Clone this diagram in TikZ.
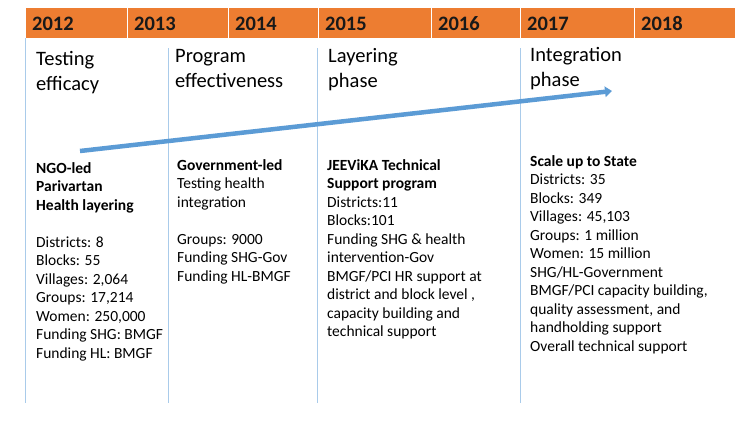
\documentclass[tikz,border=0pt]{standalone}
\usepackage{fontspec}
\setmainfont{Carlito}
\usetikzlibrary{arrows.meta}
\definecolor{barorange}{HTML}{ED7D31}
\definecolor{linelblue}{HTML}{A9CBEA}
\definecolor{arrowblue}{HTML}{5B9BD5}
\tikzset{
  yearcell/.style={fill=barorange, draw=white, line width=0.8pt},
  yeartext/.style={anchor=base west, inner sep=0pt, font=\fontsize{20.5}{24}\selectfont\bfseries, text=black!90},
  phasetext/.style={anchor=north west, inner sep=0pt, align=left, font=\fontsize{20.5}{25}\selectfont},
  bodytext/.style={anchor=north west, inner sep=0pt, align=left, font=\fontsize{15.5}{18.5}\selectfont},
  divider/.style={draw=linelblue, line width=0.8pt},
  timearrow/.style={draw=arrowblue, line width=4.5pt, -{Triangle[length=7pt,width=10.5pt]}}
}
\begin{document}
\begin{tikzpicture}[x=1pt,y=-1pt]
\useasboundingbox[fill=white] (0,0) rectangle (749,421);
% year bar
\foreach \a/\b/\yr/\n in {25/127/2012/ya,127/228/2013/yb,228/318/2014/yc,318/431/2015/yd,431/520/2016/ye,520/634/2017/yf,634/735/2018/yg}{
  \path[yearcell] (\a,7) rectangle (\b,38);
  \node[yeartext] (\n) at (\a+7,30) {\yr};
}
% dividers
\coordinate (d1t) at (25,38);  \coordinate (d1b) at (25,403);
\coordinate (d2t) at (168,48); \coordinate (d2b) at (168,403);
\coordinate (d3t) at (317,48); \coordinate (d3b) at (317,403);
\coordinate (d4t) at (520,48); \coordinate (d4b) at (520,403);
\draw[divider] (d1t) -- (d1b);
\draw[divider] (d2t) -- (d2b);
\draw[divider] (d3t) -- (d3b);
\draw[divider] (d4t) -- (d4b);
% phase headings
\node[phasetext] (p1) at (36,47.5) {\strut Testing\\efficacy};
\node[phasetext] (p2) at (175,44.5) {\strut Program\\effectiveness};
\node[phasetext] (p3) at (328,44.5) {\strut Layering\\phase};
\node[phasetext] (p4) at (530,43.5) {\strut Integration\\phase};
% arrow
\coordinate (as) at (80,151);
\coordinate (ae) at (612,91);
\draw[timearrow] (as) -- (ae);
% body texts
\node[bodytext] (c1) at (36,160) {\strut\textbf{NGO-led}\\\textbf{Parivartan}\\\textbf{Health layering}\\[18.5pt]Districts: 8\\Blocks: 55\\Villages: 2,064\\Groups: 17,214\\Women: 250,000\\Funding SHG: BMGF\\Funding HL: BMGF};
\node[bodytext] (c2) at (177,157) {\strut\textbf{Government-led}\\Testing health\\integration\\[18.5pt]Groups: 9000\\Funding SHG-Gov\\Funding HL-BMGF};
\node[bodytext] (c3) at (327,157) {\strut\textbf{JEEViKA Technical}\\\textbf{Support program}\\Districts:11\\Blocks:101\\Funding SHG \& health\\intervention-Gov\\BMGF/PCI HR support at\\district and block level ,\\capacity building and\\technical support};
\node[bodytext] (c4) at (530,153) {\strut\textbf{Scale up to State}\\Districts: 35\\Blocks: 349\\Villages: 45,103\\Groups: 1 million\\Women: 15 million\\SHG/HL-Government\\BMGF/PCI capacity building,\\quality assessment, and\\handholding support\\Overall technical support};
\end{tikzpicture}
\end{document}
